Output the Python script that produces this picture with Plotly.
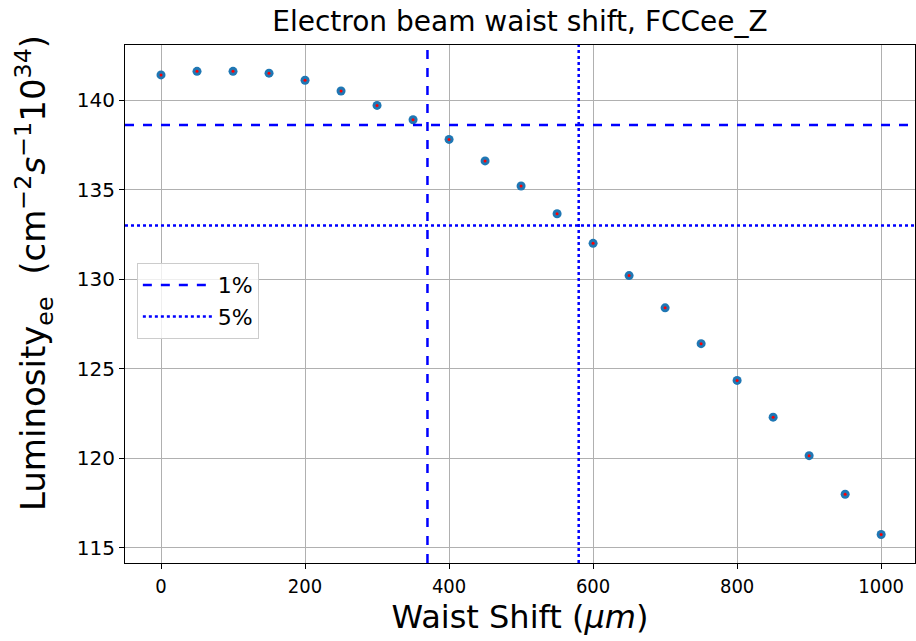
import plotly.graph_objects as go

waist_shift = [0, 50, 100, 150, 200, 250, 300, 350, 400, 450, 500, 550, 600, 650, 700, 750, 800, 850, 900, 950, 1000]
luminosity = [141.4, 141.6, 141.6, 141.5, 141.1, 140.5, 139.7, 138.9, 137.8, 136.6, 135.2, 133.65, 132.0, 130.2, 128.4, 126.4, 124.35, 122.3, 120.15, 118.0, 115.75]

lumi_1pct = 138.6
lumi_5pct = 133.0
shift_1pct = 370
shift_5pct = 580

x_ticks = [0, 200, 400, 600, 800, 1000]
y_ticks = [115, 120, 125, 130, 135, 140]

FONT = "DejaVu Sans"

fig = go.Figure()
fig.add_trace(go.Scatter(x=waist_shift, y=luminosity, mode="markers",
                         marker=dict(color="#1f77b4", size=9), showlegend=False, hoverinfo="skip"))
fig.add_trace(go.Scatter(x=waist_shift, y=luminosity, mode="markers",
                         marker=dict(color="red", size=3), showlegend=False))

fig.add_hline(y=lumi_1pct, line=dict(color="blue", dash="dash", width=2.5),
              showlegend=True, name="1%", layer="above")
fig.add_hline(y=lumi_5pct, line=dict(color="blue", dash="dot", width=2.5),
              showlegend=True, name="5%", layer="above")
fig.add_vline(x=shift_1pct, line=dict(color="blue", dash="dash", width=2.5), layer="above")
fig.add_vline(x=shift_5pct, line=dict(color="blue", dash="dot", width=2.5), layer="above")

axis_common = dict(showgrid=True, gridcolor="#b0b0b0", gridwidth=1.2,
                   showline=True, linecolor="black", linewidth=1.2, mirror=True,
                   ticks="outside", ticklen=5, tickcolor="black", zeroline=False)

fig.update_xaxes(range=[-50, 1047], tickvals=x_ticks,
                 tickfont=dict(family="Liberation Sans Narrow, DejaVu Sans Condensed, DejaVu Sans", size=20, color="black"),
                 title=dict(text="Waist Shift (<i>μm</i>)", font=dict(family=FONT, size=32, color="black"), standoff=8),
                 **axis_common)
fig.update_yaxes(range=[114.16, 143.07], tickvals=y_ticks,
                 tickfont=dict(family=FONT, size=20, color="black"),
                 **axis_common)

fig.add_annotation(
    text="Luminosity<sub>ee</sub>  (cm<sup>−2</sup><i>s</i><sup>−1</sup>10<sup>34</sup>)",
    xref="paper", yref="paper", x=-0.115, y=0.56, xanchor="center", yanchor="middle",
    textangle=-90, showarrow=False, font=dict(family=FONT, size=34, color="black"))

fig.update_layout(
    width=916, height=641,
    margin=dict(l=125, r=1, t=45, b=78),
    paper_bgcolor="white", plot_bgcolor="white",
    title=dict(text="Electron beam waist shift, FCCee_Z", x=0.5, xref="paper", xanchor="center",
               y=1 - 21 / 641, yanchor="middle", font=dict(family=FONT, size=28, color="black")),
    legend=dict(x=0.015, y=0.579, xanchor="left", yanchor="top", itemwidth=70,
                bgcolor="rgba(255,255,255,0.8)", bordercolor="#cccccc", borderwidth=1,
                font=dict(family=FONT, size=22, color="black")),
)

fig.write_html("out.html")
